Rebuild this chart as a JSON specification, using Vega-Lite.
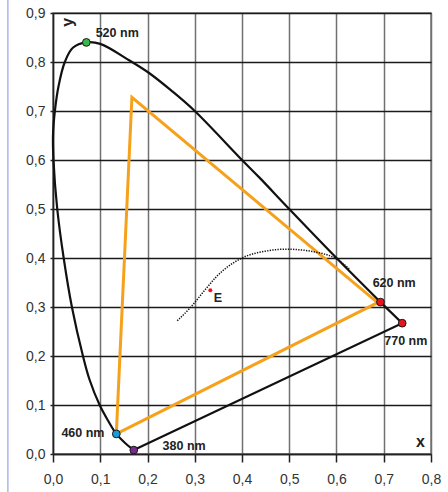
{
  "$schema": "https://vega.github.io/schema/vega-lite/v6.json",
  "width": 378,
  "height": 441,
  "autosize": {"type": "none"},
  "padding": {"left": 53, "top": 13, "right": 17, "bottom": 38},
  "background": "white",
  "config": {
    "view": {"stroke": "#7a7a7a", "strokeWidth": 1.5},
    "font": "Liberation Sans"
  },
  "datasets": {
    "frame": [{"x": -0.0955, "y": -0.08, "y2": 0.93}],
    "locus": [
      {"i": 1, "x": 0.171, "y": 0.008},
      {"i": 2, "x": 0.152, "y": 0.023},
      {"i": 3, "x": 0.134, "y": 0.041},
      {"i": 4, "x": 0.116, "y": 0.069},
      {"i": 5, "x": 0.0987, "y": 0.1},
      {"i": 6, "x": 0.0776, "y": 0.151},
      {"i": 7, "x": 0.0634, "y": 0.2},
      {"i": 8, "x": 0.040, "y": 0.3},
      {"i": 9, "x": 0.0226, "y": 0.4},
      {"i": 11, "x": 0.009, "y": 0.5},
      {"i": 12, "x": 0.001, "y": 0.6},
      {"i": 13, "x": 0.0, "y": 0.65},
      {"i": 14, "x": 0.004, "y": 0.7},
      {"i": 15, "x": 0.012, "y": 0.752},
      {"i": 16, "x": 0.025, "y": 0.8},
      {"i": 17, "x": 0.042, "y": 0.829},
      {"i": 18, "x": 0.0706, "y": 0.84},
      {"i": 19, "x": 0.1, "y": 0.837},
      {"i": 20, "x": 0.162, "y": 0.803},
      {"i": 21, "x": 0.204, "y": 0.777},
      {"i": 22, "x": 0.25, "y": 0.742},
      {"i": 23, "x": 0.3, "y": 0.7},
      {"i": 24, "x": 0.4, "y": 0.6},
      {"i": 25, "x": 0.437, "y": 0.564},
      {"i": 26, "x": 0.5, "y": 0.5},
      {"i": 27, "x": 0.6, "y": 0.4},
      {"i": 28, "x": 0.693, "y": 0.31}
    ],
    "closing": [
      {"i": 1, "x": 0.693, "y": 0.31},
      {"i": 2, "x": 0.739, "y": 0.267},
      {"i": 3, "x": 0.171, "y": 0.008}
    ],
    "triangle": [
      {"i": 1, "x": 0.134, "y": 0.041},
      {"i": 2, "x": 0.167, "y": 0.728},
      {"i": 3, "x": 0.687, "y": 0.309},
      {"i": 4, "x": 0.134, "y": 0.041}
    ],
    "planck": [
      {"i": 1, "x": 0.263, "y": 0.272},
      {"i": 2, "x": 0.289, "y": 0.297},
      {"i": 3, "x": 0.321, "y": 0.334},
      {"i": 4, "x": 0.345, "y": 0.361},
      {"i": 5, "x": 0.4, "y": 0.4},
      {"i": 6, "x": 0.45, "y": 0.414},
      {"i": 7, "x": 0.493, "y": 0.418},
      {"i": 8, "x": 0.571, "y": 0.409},
      {"i": 9, "x": 0.6, "y": 0.398},
      {"i": 10, "x": 0.627, "y": 0.378}
    ],
    "points": [
      {"name": "380 nm", "x": 0.171, "y": 0.008},
      {"name": "460 nm", "x": 0.134, "y": 0.041},
      {"name": "520 nm", "x": 0.0706, "y": 0.84},
      {"name": "620 nm", "x": 0.693, "y": 0.31},
      {"name": "770 nm", "x": 0.739, "y": 0.267}
    ],
    "white": [{"name": "E", "x": 0.333, "y": 0.334}],
    "labels": [
      {"kind": "nm", "text": "520 nm", "x": 0.0903, "y": 0.859},
      {"kind": "nm", "text": "460 nm", "x": 0.0178, "y": 0.042},
      {"kind": "nm", "text": "380 nm", "x": 0.232, "y": 0.0163},
      {"kind": "nm", "text": "620 nm", "x": 0.6765, "y": 0.348},
      {"kind": "nm", "text": "770 nm", "x": 0.701, "y": 0.23},
      {"kind": "nm", "text": "E", "x": 0.34, "y": 0.319},
      {"kind": "axis", "text": "x", "x": 0.768, "y": 0.0245}
    ],
    "ylabel": [{"text": "y", "x": 0.031, "y": 0.881}]
  },
  "encoding": {
    "x": {
      "field": "x",
      "type": "quantitative",
      "scale": {"domain": [0, 0.8], "nice": false, "zero": false},
      "axis": {
        "title": null,
        "values": [0, 0.1, 0.2, 0.3, 0.4, 0.5, 0.6, 0.7, 0.8],
        "labelExpr": "replace(format(datum.value, '.1f'), '.', ',')",
        "labelFlush": false,
        "labelOverlap": false,
        "grid": true,
        "gridColor": "#707070",
        "gridWidth": 1.5,
        "gridOpacity": 1,
        "domainColor": "#222222",
        "domainWidth": 1.5,
        "tickColor": "#222222",
        "tickWidth": 1.5,
        "tickSize": 8,
        "labelPadding": 10,
        "labelFontSize": 14,
        "labelColor": "#333333",
        "labelFont": "Liberation Sans"
      }
    },
    "y": {
      "field": "y",
      "type": "quantitative",
      "scale": {"domain": [0, 0.9], "nice": false, "zero": false},
      "axis": {
        "title": null,
        "values": [0, 0.1, 0.2, 0.3, 0.4, 0.5, 0.6, 0.7, 0.8, 0.9],
        "labelExpr": "replace(format(datum.value, '.1f'), '.', ',')",
        "labelFlush": false,
        "labelOverlap": false,
        "grid": true,
        "gridColor": "#1a1a1a",
        "gridWidth": 1.5,
        "gridOpacity": 1,
        "domainColor": "#222222",
        "domainWidth": 1.5,
        "tickColor": "#222222",
        "tickWidth": 1.5,
        "tickSize": 3,
        "labelPadding": 5,
        "labelFontSize": 14,
        "labelColor": "#333333",
        "labelFont": "Liberation Sans"
      }
    }
  },
  "layer": [
    {
      "data": {"name": "frame"},
      "mark": {"type": "rule", "color": "#a9b8e6", "strokeWidth": 1.5, "clip": false},
      "encoding": {"y2": {"field": "y2"}}
    },
    {
      "data": {"name": "triangle"},
      "mark": {"type": "line", "color": "#f6a11c", "strokeWidth": 3, "strokeJoin": "miter"},
      "encoding": {"order": {"field": "i"}}
    },
    {
      "data": {"name": "locus"},
      "mark": {"type": "line", "color": "#111111", "strokeWidth": 2.2, "interpolate": "catmull-rom", "clip": false},
      "encoding": {"order": {"field": "i"}}
    },
    {
      "data": {"name": "closing"},
      "mark": {"type": "line", "color": "#111111", "strokeWidth": 2.2},
      "encoding": {"order": {"field": "i"}}
    },
    {
      "data": {"name": "planck"},
      "mark": {"type": "line", "color": "#111111", "strokeWidth": 1.5, "strokeDash": [1.3, 1.3], "interpolate": "monotone"},
      "encoding": {"order": {"field": "i"}}
    },
    {
      "data": {"name": "points"},
      "mark": {"type": "circle", "size": 60, "opacity": 1, "stroke": "#1a1a1a", "strokeWidth": 1},
      "encoding": {
        "color": {
          "field": "name",
          "type": "nominal",
          "scale": {"domain": ["380 nm", "460 nm", "520 nm", "620 nm", "770 nm"], "range": ["#7a2a8c", "#1a9ad8", "#3db54a", "#e8141c", "#e8141c"]},
          "legend": null
        }
      }
    },
    {
      "data": {"name": "white"},
      "mark": {"type": "circle", "size": 16, "opacity": 1, "color": "#e8141c"}
    },
    {
      "data": {"name": "labels"},
      "transform": [{"filter": "datum.kind === 'nm'"}],
      "mark": {"type": "text", "align": "left", "baseline": "middle", "fontSize": 12.5, "fontWeight": "bold", "color": "#222222", "font": "Liberation Sans"},
      "encoding": {"text": {"field": "text"}}
    },
    {
      "data": {"name": "labels"},
      "transform": [{"filter": "datum.kind === 'axis'"}],
      "mark": {"type": "text", "align": "left", "baseline": "middle", "fontSize": 16, "fontWeight": "bold", "color": "#222222", "font": "Liberation Sans"},
      "encoding": {"text": {"field": "text"}}
    },
    {
      "data": {"name": "ylabel"},
      "mark": {"type": "text", "align": "center", "baseline": "middle", "angle": 270, "fontSize": 16, "fontWeight": "bold", "color": "#222222", "font": "Liberation Sans"},
      "encoding": {"text": {"field": "text"}}
    }
  ]
}
